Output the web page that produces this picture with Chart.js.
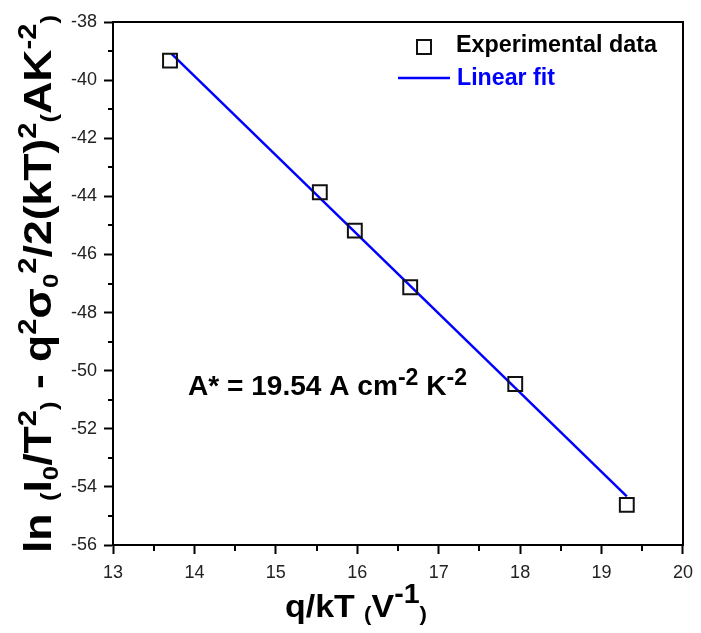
<!DOCTYPE html>
<html>
<head>
<meta charset="utf-8">
<script src="https://cdn.jsdelivr.net/npm/chart.js@4.4.1/dist/chart.umd.min.js"></script>
<style>
  html, body { margin: 0; padding: 0; background: #fff; }
  #wrap { width: 701px; height: 633px; position: relative; }
</style>
</head>
<body>
<div id="wrap"><canvas id="myChart" width="701" height="633"></canvas></div>
<script>
// values
var expX = [13.70, 15.54, 15.97, 16.65, 17.94, 19.31]
var expY = [-39.33, -43.86, -45.18, -47.13, -50.46, -54.62]
var fitX = [13.72, 19.31]
var fitY = [-39.10, -54.33]
var xTicks = [13, 14, 15, 16, 17, 18, 19, 20]
var yTicks = [-56, -54, -52, -50, -48, -46, -44, -42, -40, -38]

var FONT = "'Liberation Sans', Arial, sans-serif"

function toPoints(xs, ys) {
    var pts = []
    for (var i = 0; i < xs.length; i++) pts.push({ x: xs[i], y: ys[i] })
    return pts
}

// rich text: list of segments {t, size, dy}
function richWidth(ctx, segs) {
    var w = 0
    segs.forEach(function (s) {
        ctx.font = "bold " + s.size + "px " + FONT
        w += ctx.measureText(s.t).width
    })
    return w
}

function drawRich(ctx, segs, x, y, target, angle, color) {
    ctx.save()
    ctx.translate(x, y)
    if (angle) ctx.rotate(angle)
    var w = richWidth(ctx, segs)
    if (target) ctx.scale(target / w, 1)
    ctx.fillStyle = color || "#000"
    ctx.textBaseline = "alphabetic"
    ctx.textAlign = "left"
    var cx = 0
    segs.forEach(function (s) {
        ctx.font = "bold " + s.size + "px " + FONT
        ctx.fillText(s.t, cx, s.dy || 0)
        cx += ctx.measureText(s.t).width
    })
    ctx.restore()
}

var B = 38
var yTitle = [
    { t: "ln ", size: B },
    { t: "(", size: 22, dy: 5 },
    { t: "I", size: B },
    { t: "0", size: 22, dy: 7 },
    { t: "/T", size: B },
    { t: "2", size: 25, dy: -15 },
    { t: ")", size: 22, dy: 5 },
    { t: " - q", size: B },
    { t: "2", size: 25, dy: -15 },
    { t: "σ", size: B },
    { t: "0", size: 22, dy: 7 },
    { t: "2", size: 25, dy: -15 },
    { t: "/2(kT)", size: B },
    { t: "2", size: 25, dy: -15 },
    { t: "(", size: 22, dy: 5 },
    { t: "AK", size: B },
    { t: "-2", size: 25, dy: -15 },
    { t: ")", size: 22, dy: 5 }
]

var xTitle = [
    { t: "q/kT ", size: 32 },
    { t: "(", size: 21, dy: 4 },
    { t: "V", size: 32 },
    { t: "-1", size: 27, dy: -14 },
    { t: ")", size: 21, dy: 4 }
]

var note = [
    { t: "A* = 19.54 A cm", size: 28 },
    { t: "-2", size: 23, dy: -10 },
    { t: " K", size: 28 },
    { t: "-2", size: 23, dy: -10 }
]

var extras = {
    id: "extras",
    afterDraw: function (chart) {
        var ctx = chart.ctx
        var a = chart.chartArea
        var xs = chart.scales.x
        var ys = chart.scales.y

        // frame
        ctx.save()
        ctx.strokeStyle = "#000"
        ctx.lineWidth = 2
        ctx.strokeRect(a.left, a.top, a.right - a.left, a.bottom - a.top)

        // minor ticks
        ctx.beginPath()
        for (var v = 13.5; v < 20; v += 1) {
            var px = Math.round(xs.getPixelForValue(v))
            ctx.moveTo(px, a.bottom)
            ctx.lineTo(px, a.bottom + 6)
        }
        for (var u = -55; u < -38; u += 2) {
            var py = Math.round(ys.getPixelForValue(u))
            ctx.moveTo(a.left, py)
            ctx.lineTo(a.left - 5, py)
        }
        ctx.stroke()

        // legend
        var sq = 14
        ctx.lineWidth = 2
        ctx.strokeStyle = "#111"
        ctx.strokeRect(424 - sq / 2, 47 - sq / 2, sq, sq)
        ctx.strokeStyle = "#0000ff"
        ctx.lineWidth = 2.5
        ctx.beginPath()
        ctx.moveTo(398, 78)
        ctx.lineTo(450, 78)
        ctx.stroke()
        ctx.restore()

        drawRich(ctx, [{ t: "Experimental data", size: 23 }], 456, 52, 201, 0, "#000")
        drawRich(ctx, [{ t: "Linear fit", size: 23 }], 457, 85, 98, 0, "#0000ff")

        // axis titles and note
        drawRich(ctx, yTitle, 51, 553, 538, -Math.PI / 2, "#000")
        drawRich(ctx, xTitle, 285, 617, 142, 0, "#000")
        drawRich(ctx, note, 188, 395, 279, 0, "#000")
    }
}

var myCharts = document.getElementById("myChart").getContext("2d")
var chart = new Chart(myCharts, {
    type: "scatter",
    data: {
        datasets: [
            {
                label: "Experimental data",
                data: toPoints(expX, expY),
                pointStyle: "rect",
                pointRadius: 9.8,
                pointBorderWidth: 2,
                borderColor: "#111",
                backgroundColor: "rgba(0,0,0,0)",
                showLine: false
            },
            {
                label: "Linear fit",
                data: toPoints(fitX, fitY),
                showLine: true,
                pointRadius: 0,
                borderColor: "#0000ff",
                borderWidth: 2.5,
                fill: false
            }
        ]
    },
    options: {
        responsive: false,
        animation: false,
        layout: { padding: { left: 0, top: 22, right: 13, bottom: 0 } },
        plugins: {
            legend: { display: false },
            tooltip: { enabled: false }
        },
        scales: {
            x: {
                type: "linear",
                min: 13,
                max: 20,
                afterBuildTicks: function (s) { s.ticks = xTicks.map(function (v) { return { value: v } }) },
                afterFit: function (s) { s.height = 88 },
                grid: { drawOnChartArea: false, drawTicks: true, tickLength: 9, tickWidth: 2, tickColor: "#000" },
                border: { display: true, color: "#000", width: 2 },
                ticks: { color: "#222", padding: 8, font: { family: FONT, size: 18 }, maxRotation: 0 }
            },
            y: {
                type: "linear",
                min: -56,
                max: -38,
                afterBuildTicks: function (s) { s.ticks = yTicks.map(function (v) { return { value: v } }) },
                afterFit: function (s) { s.width = 113 },
                grid: { drawOnChartArea: false, drawTicks: true, tickLength: 9, tickWidth: 2, tickColor: "#000" },
                border: { display: true, color: "#000", width: 2 },
                ticks: { color: "#222", padding: 7, font: { family: FONT, size: 18 } }
            }
        }
    },
    plugins: [extras]
})
</script>
</body>
</html>
